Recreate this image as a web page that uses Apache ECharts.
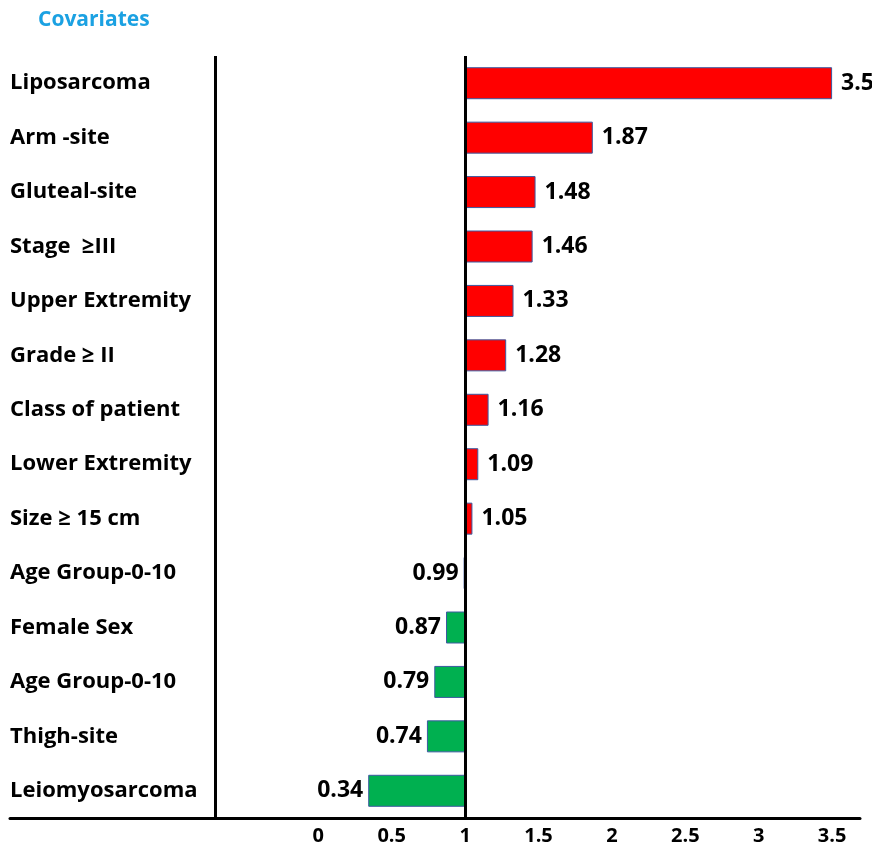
<!DOCTYPE html>
<html>
<head>
<meta charset="utf-8">
<script src="https://cdn.jsdelivr.net/npm/echarts@6/dist/echarts.min.js"></script>
<style>
  html, body { margin: 0; padding: 0; background: #fff; }
  #chart1 { width: 872px; height: 851px; }
</style>
</head>
<body>
<div id="chart1"></div>
<script>
// covariates, top to bottom
var covariates = ['Liposarcoma', 'Arm -site', 'Gluteal-site', 'Stage  \u2265III', 'Upper Extremity',
    'Grade \u2265 II', 'Class of patient', 'Lower Extremity', 'Size \u2265 15 cm',
    'Age Group-0-10', 'Female Sex', 'Age Group-0-10', 'Thigh-site', 'Leiomyosarcoma'];
var ratios = [3.5, 1.87, 1.48, 1.46, 1.33, 1.28, 1.16, 1.09, 1.05, 0.99, 0.87, 0.79, 0.74, 0.34];
var xTicks = [0, 0.5, 1, 1.5, 2, 2.5, 3, 3.5];
var baseline = 1;

var font = '"Open Sans"';

// bars start at 1: invisible helper + visible part
var helper = ratios.map(function (v) { return Math.min(v, baseline); });
var shown = ratios.map(function (v) {
    var up = v >= baseline;
    return {
        value: Math.abs(v - baseline),
        itemStyle: { color: up ? '#ff0000' : '#00b050' },
        label: { position: up ? 'right' : 'left', distance: up ? 9 : 5 }
    };
});

var myChart1 = echarts.init(document.getElementById('chart1'));

var option = {
    animation: false,
    title: {
        text: 'Covariates',
        left: 33,
        top: 5,
        textStyle: { color: '#1ba1e2', fontSize: 21, fontWeight: 'bold', fontFamily: font }
    },
    grid: { left: 10, right: 12, top: 56, bottom: 33, containLabel: false },
    xAxis: {
        type: 'value',
        min: -2.1,
        max: 3.69,
        splitLine: { show: false },
        axisTick: { show: false },
        axisLine: { show: true, lineStyle: { color: '#000', width: 3 } },
        axisLabel: {
            customValues: xTicks,
            margin: 8,
            color: '#000',
            fontSize: 20,
            fontWeight: 'bold',
            fontFamily: font
        }
    },
    yAxis: {
        type: 'category',
        inverse: true,
        data: covariates,
        axisLine: { show: false },
        axisTick: { show: false },
        axisLabel: {
            inside: true,
            margin: 0,
            color: '#000',
            fontSize: 22,
            fontWeight: 'bold',
            fontFamily: font
        }
    },
    series: [
        {
            type: 'bar',
            stack: 'hr',
            data: helper,
            itemStyle: { color: 'transparent' },
            silent: true
        },
        {
            type: 'bar',
            stack: 'hr',
            barWidth: 32,
            data: shown,
            itemStyle: { borderColor: '#3c5aa0', borderWidth: 1 },
            label: {
                show: true,
                color: '#000',
                fontSize: 23,
                fontWeight: 'bold',
                fontFamily: font,
                formatter: function (p) { return ratios[p.dataIndex]; }
            },
            markLine: {
                silent: true,
                symbol: 'none',
                label: { show: false },
                lineStyle: { color: '#000', width: 3, type: 'solid' },
                data: [{ xAxis: baseline }, { xAxis: -0.7 }]
            }
        }
    ]
};
myChart1.setOption(option);
</script>
</body>
</html>
